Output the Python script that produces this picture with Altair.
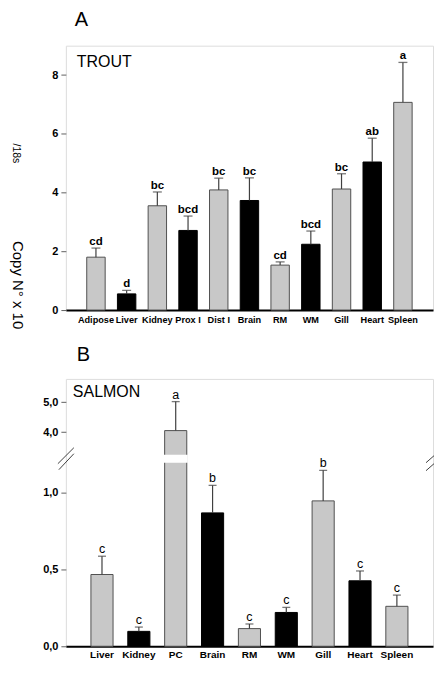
import altair as alt
import pandas as pd

FONT = "Liberation Sans"

# ---------- Panel A (trout) ----------
tissuesA = ["Adipose", "Liver", "Kidney", "Prox I", "Dist I", "Brain", "RM", "WM", "Gill", "Heart", "Spleen"]
meanA = [1.80, 0.55, 3.55, 2.71, 4.09, 3.73, 1.53, 2.24, 4.12, 5.04, 7.07]
upperA = [2.11, 0.67, 4.02, 3.20, 4.49, 4.50, 1.64, 2.69, 4.64, 5.85, 8.43]
lettersA = ["cd", "d", "bc", "bcd", "bc", "bc", "cd", "bcd", "bc", "ab", "a"]
kindA = ["gray", "black", "gray", "black", "gray", "black", "gray", "black", "gray", "black", "gray"]
ticksA = [0, 2, 4, 6, 8]
domainA = [0, 9]

# ---------- Panel B (salmon) ----------
tissuesB = ["Liver", "Kidney", "PC", "Brain", "RM", "WM", "Gill", "Heart", "Spleen"]
meanB = [0.467, 0.097, 4.05, 0.868, 0.115, 0.22, 0.946, 0.426, 0.26]
upperB = [0.586, 0.125, 5.02, 1.047, 0.145, 0.253, 1.145, 0.49, 0.333]
lettersB = ["c", "c", "a", "b", "c", "c", "b", "c", "c"]
kindB = ["gray", "black", "gray", "black", "gray", "black", "gray", "black", "gray"]
ticksB = [0, 0.5, 1.0, 4.0, 5.0]
breakLow, breakHigh = 1.201, 3.21
domainB = [0, breakLow, breakHigh, 5.78]

dfA = pd.DataFrame({"tissue": tissuesA, "mean": meanA, "upper": upperA, "letter": lettersA, "kind": kindA})
dfB = pd.DataFrame({"tissue": tissuesB, "mean": meanB, "upper": upperB, "letter": lettersB, "kind": kindB})

W = 368
HA = 265
HB = 268

fill_scale = alt.Scale(domain=["gray", "black"], range=["#c8c8c8", "#000000"])
stroke_scale = alt.Scale(domain=["gray", "black"], range=["#505050", "#000000"])


def xenc(order, size, pad):
    return alt.X("tissue:N", sort=order, title=None,
                 scale=alt.Scale(paddingInner=0.4, paddingOuter=0.68),
                 axis=alt.Axis(labelAngle=0, ticks=False, labelFont=FONT, labelFontSize=size,
                               labelFontWeight="bold", labelColor="black", labelPadding=pad,
                               domainColor="black", domainWidth=2))


def label(text, size, x, y, **kw):
    return alt.Chart(pd.DataFrame({"t": [text]})).mark_text(
        font=FONT, fontSize=size, color="black", **kw).encode(
        x=alt.value(x), y=alt.value(y), text="t:N")


dummy = pd.DataFrame({"k": [0]})

# invisible spacer fixing the left extent of both panels
spacer = alt.Chart(dummy).mark_rule(opacity=0, strokeWidth=1).encode(
    x=alt.value(-57), y=alt.value(100), y2=alt.value(101))

# Panel A
yA = alt.Y("mean:Q", title=None,
           scale=alt.Scale(domain=domainA, nice=False),
           axis=alt.Axis(values=ticksA, format="d", grid=False, domain=False, tickSize=5,
                         tickColor="#606060", tickWidth=1, labelFont=FONT, labelFontSize=11,
                         labelFontWeight="bold", labelColor="black", labelPadding=3))

baseA = alt.Chart(dfA)
barsA = baseA.mark_bar(strokeWidth=1).encode(
    x=xenc(tissuesA, 9.2, 5), y=yA,
    fill=alt.Fill("kind:N", scale=fill_scale, legend=None),
    stroke=alt.Stroke("kind:N", scale=stroke_scale, legend=None))
errA = baseA.mark_rule(color="#404040", strokeWidth=1.2).encode(
    x=alt.X("tissue:N", sort=tissuesA), y="mean:Q", y2="upper:Q")
capA = baseA.mark_tick(color="#404040", thickness=1.3, size=9).encode(
    x=alt.X("tissue:N", sort=tissuesA), y="upper:Q")
letA = baseA.mark_text(font=FONT, fontSize=11.5, fontWeight="bold", baseline="alphabetic", dy=-3,
                       color="black").encode(
    x=alt.X("tissue:N", sort=tissuesA), y="upper:Q", text="letter:N")
nameA = label("TROUT", 16, 11, 21, align="left", baseline="alphabetic")
tagA = label("A", 20, 9, -20, align="left", baseline="alphabetic")
ytitle1 = label("/18s", 10.5, -49.5, 108, angle=90, align="center", baseline="middle")
ytitle2 = label("Copy N° x 10", 15, -47.5, 240, angle=90, align="center", baseline="middle")

panelA = alt.layer(barsA, errA, capA, letA, nameA, tagA, ytitle1, ytitle2, spacer).properties(
    width=W, height=HA)

# Panel B
yB = alt.Y("mean:Q", title=None,
           scale=alt.Scale(domain=domainB, range=[HB, 83, 77, 0], nice=False, zero=False),
           axis=alt.Axis(values=ticksB, labelExpr="replace(format(datum.value, '.1f'), '.', ',')",
                         grid=False, domain=False, tickSize=5, tickColor="#606060", tickWidth=1,
                         labelFont=FONT, labelFontSize=11, labelFontWeight="bold",
                         labelColor="black", labelPadding=3))

baseB = alt.Chart(dfB)
barsB = baseB.mark_bar(strokeWidth=1).encode(
    x=xenc(tissuesB, 10, 3), y=yB,
    fill=alt.Fill("kind:N", scale=fill_scale, legend=None),
    stroke=alt.Stroke("kind:N", scale=stroke_scale, legend=None))
gapB = baseB.transform_filter(alt.datum.mean > breakHigh).transform_calculate(
    lo=str(breakLow), hi=str(breakHigh)).mark_bar(color="white", stroke="white", strokeWidth=2).encode(
    x=alt.X("tissue:N", sort=tissuesB), y="lo:Q", y2="hi:Q")
errB = baseB.mark_rule(color="#404040", strokeWidth=1.2).encode(
    x=alt.X("tissue:N", sort=tissuesB), y="mean:Q", y2="upper:Q")
capB = baseB.mark_tick(color="#404040", thickness=1.3, size=8).encode(
    x=alt.X("tissue:N", sort=tissuesB), y="upper:Q")
letB = baseB.mark_text(font=FONT, fontSize=12.5, baseline="alphabetic", dy=-3, color="black").encode(
    x=alt.X("tissue:N", sort=tissuesB), y="upper:Q", text="letter:N")
nameB = label("SALMON", 16, 7, 18, align="left", baseline="alphabetic")
tagB = label("B", 20, 11, -18, align="left", baseline="alphabetic")


def slash(x1, y1, x2, y2):
    return alt.Chart(dummy).mark_rule(color="#404040", strokeWidth=1).encode(
        x=alt.value(x1), y=alt.value(y1), x2=alt.value(x2), y2=alt.value(y2))


breaks = [slash(-8, 85, 8, 69), slash(-7, 91, 8, 75),
          slash(W - 7, 84, W + 1, 77), slash(W - 7, 92, W + 1, 85)]

panelB = alt.layer(barsB, gapB, errB, capB, letB, nameB, tagB, spacer, *breaks).properties(
    width=W, height=HB)

chart = alt.vconcat(panelA, panelB, spacing=69, bounds="flush").properties(
    padding={"left": 0, "top": 0, "right": 0, "bottom": 0}
).configure_view(stroke="#7a7a7a", strokeWidth=1.5).configure(background="white")

chart.save("out.html", embed_options={"renderer": "svg", "actions": False})
